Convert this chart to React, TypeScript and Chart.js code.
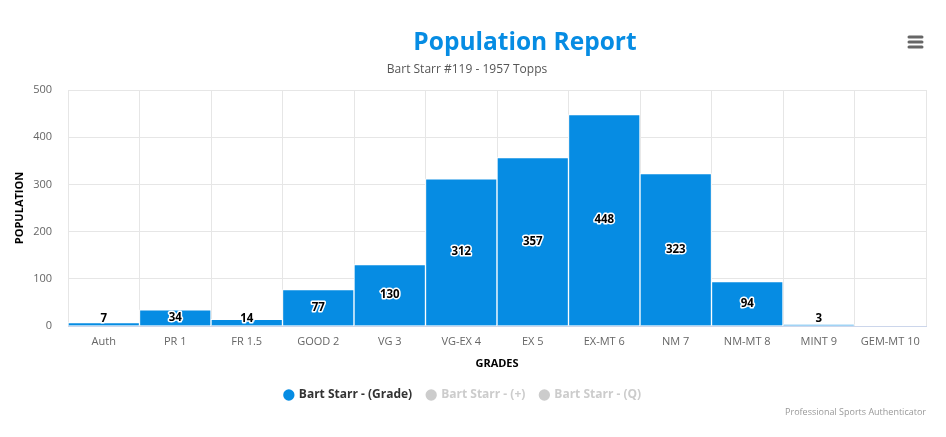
import React, { useEffect, useRef } from "react";
import { Chart, registerables } from "chart.js";

Chart.register(...registerables);

const categories = ["Auth", "PR 1", "FR 1.5", "GOOD 2", "VG 3", "VG-EX 4", "EX 5", "EX-MT 6", "NM 7", "NM-MT 8", "MINT 9", "GEM-MT 10"];
const gradeValues: (number | null)[] = [7, 34, 14, 77, 130, 312, 357, 448, 323, 94, 3, null];
const plusValues: (number | null)[] = [null, null, null, null, null, null, null, null, null, null, null, null];
const qualifierValues: (number | null)[] = [null, null, null, null, null, null, null, null, null, null, null, null];
const seriesNames = ["Bart Starr - (Grade)", "Bart Starr - (+)", "Bart Starr - (Q)"];
const yTicks = [0, 100, 200, 300, 400, 500];

const FONT = "'Open Sans', sans-serif";
const BLUE = "#068ce3";

const decorPlugin = {
  id: "decor",
  afterDraw(chart: any) {
    const ctx = chart.ctx;
    ctx.save();
    // title
    ctx.fillStyle = BLUE;
    ctx.font = `bold 24.5px ${FONT}`;
    ctx.textAlign = "center";
    ctx.textBaseline = "middle";
    ctx.fillText("Population Report", 525, 43);
    // subtitle
    ctx.fillStyle = "#555";
    ctx.font = `12px ${FONT}`;
    ctx.fillText("Bart Starr #119 - 1957 Topps", 467, 70);
    // menu icon
    ctx.strokeStyle = "#666";
    ctx.lineWidth = 3;
    ctx.lineCap = "round";
    for (const y of [37, 42, 47]) {
      ctx.beginPath();
      ctx.moveTo(909, y);
      ctx.lineTo(922, y);
      ctx.stroke();
    }
    // credits
    ctx.fillStyle = "#999";
    ctx.font = `9px ${FONT}`;
    ctx.textAlign = "right";
    ctx.fillText("Professional Sports Authenticator", 926, 412);
    ctx.restore();
  },
  afterDatasetsDraw(chart: any) {
    const ctx = chart.ctx;
    const meta = chart.getDatasetMeta(0);
    const data = chart.data.datasets[0].data;
    ctx.save();
    ctx.font = `bold 11.5px ${FONT}`;
    ctx.textAlign = "center";
    ctx.textBaseline = "middle";
    ctx.lineJoin = "round";
    meta.data.forEach((el: any, i: number) => {
      const v = data[i];
      if (v === null || v === undefined) return;
      const { x, y, base } = el.getProps(["x", "y", "base"], true);
      let cy = (y + base) / 2;
      cy = Math.min(cy, base - 7);
      ctx.strokeStyle = "#fff";
      ctx.lineWidth = 3;
      ctx.strokeText(String(v), x, cy);
      ctx.fillStyle = "#000";
      ctx.fillText(String(v), x, cy);
    });
    ctx.restore();
  },
};

export default function App() {
  const ref = useRef<HTMLCanvasElement>(null);
  useEffect(() => {
    document.body.style.margin = "0";
    const greyColor = "#cccccc";
    const chart = new Chart(ref.current!, {
      type: "bar",
      data: {
        labels: categories,
        datasets: [
          { label: seriesNames[0], data: gradeValues, backgroundColor: BLUE, borderColor: "#fff", borderWidth: 1, categoryPercentage: 1, barPercentage: 1 },
          { label: seriesNames[1], data: plusValues, backgroundColor: greyColor, hidden: true, categoryPercentage: 1, barPercentage: 1 },
          { label: seriesNames[2], data: qualifierValues, backgroundColor: greyColor, hidden: true, categoryPercentage: 1, barPercentage: 1 },
        ],
      },
      options: {
        animation: false,
        responsive: true,
        maintainAspectRatio: false,
        layout: { padding: { top: 90, right: 20, left: 0, bottom: 26 } },
        plugins: {
          title: { display: false },
          tooltip: { enabled: false },
          legend: {
            position: "bottom",
            labels: {
              usePointStyle: true,
              pointStyle: "circle",
              boxWidth: 8,
              boxHeight: 8,
              padding: 15,
              font: { family: FONT, size: 12, weight: "bold" },
              generateLabels(chart: any) {
                return chart.data.datasets.map((ds: any, i: number) => {
                  const hidden = !chart.isDatasetVisible(i);
                  return {
                    text: ds.label,
                    fillStyle: hidden ? greyColor : BLUE,
                    strokeStyle: hidden ? greyColor : BLUE,
                    fontColor: hidden ? greyColor : "#333",
                    lineWidth: 0,
                    hidden: false,
                    pointStyle: "circle",
                    datasetIndex: i,
                  };
                });
              },
            },
          },
        },
        scales: {
          x: {
            grid: { color: "#e6e6e6", offset: true, drawTicks: false },
            border: { color: "#ccd6eb", width: 1 },
            ticks: { color: "#666", font: { family: FONT, size: 11 }, padding: 9, autoSkip: false, maxRotation: 0 },
            title: { display: true, text: "GRADES", color: "#000", font: { family: FONT, size: 11, weight: "bold" }, padding: { top: 2, bottom: 4 } },
            afterFit(scale: any) { scale.height = 48; },
          },
          y: {
            min: 0,
            max: 500,
            afterBuildTicks(scale: any) { scale.ticks = yTicks.map((v) => ({ value: v })); },
            grid: { color: "#e6e6e6", drawTicks: false },
            border: { display: false },
            ticks: { color: "#666", font: { family: FONT, size: 11 }, padding: 16 },
            title: { display: true, text: "POPULATION", color: "#000", font: { family: FONT, size: 11, weight: "bold" }, padding: { top: 13, bottom: 8 } },
            afterFit(scale: any) { scale.width = 68; },
          },
        },
      },
      plugins: [decorPlugin],
    });
    return () => chart.destroy();
  }, []);
  return (
    <div style={{ position: "fixed", left: 0, top: 0, width: 946, height: 437 }}>
      <canvas ref={ref} />
    </div>
  );
}
